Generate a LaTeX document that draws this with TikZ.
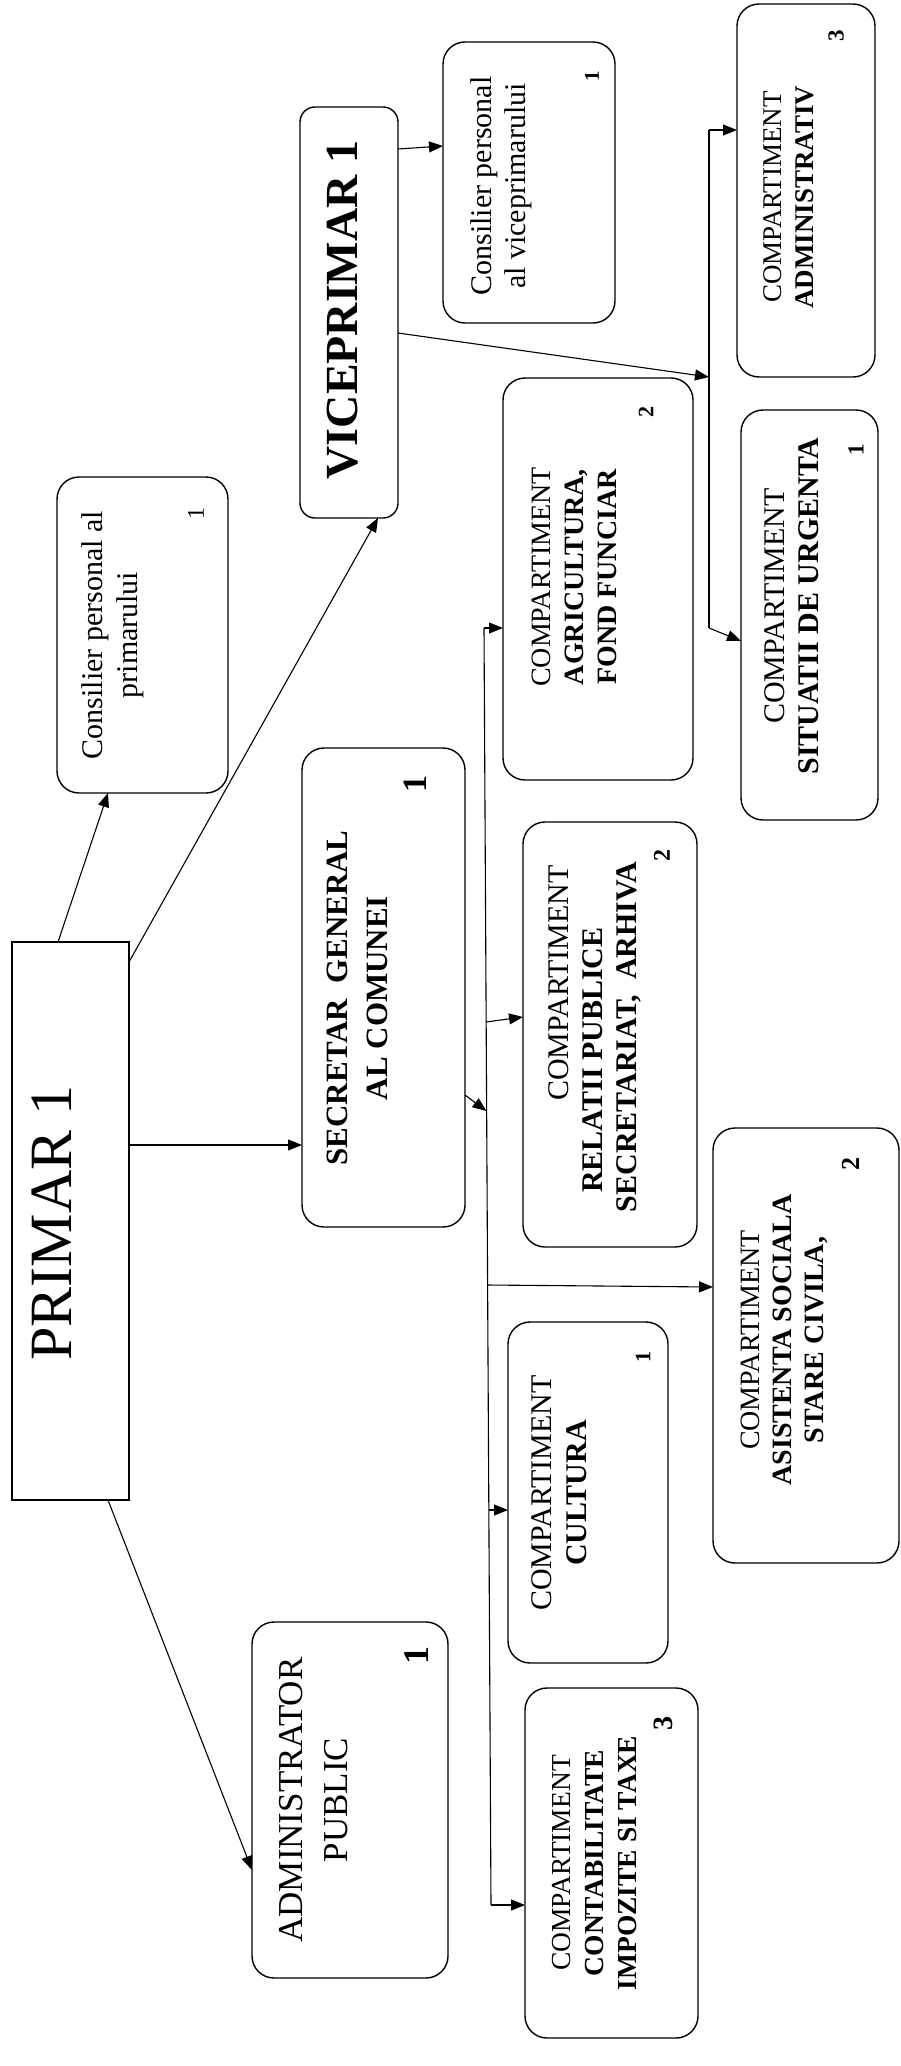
\documentclass[tikz,border=0pt]{standalone}
\usepackage{fontspec}
\setmainfont{Liberation Serif}
\usetikzlibrary{arrows.meta,fit}
\newcommand{\myfs}[2]{\fontsize{#1}{#2}\selectfont}
\begin{document}
\begin{tikzpicture}[x=1pt,y=-1pt,
  box/.style={draw, line width=1.4pt, rounded corners=22pt, inner sep=0pt, outer sep=0pt},
  sq/.style={draw, line width=1.4pt, inner sep=0pt, outer sep=0pt},
  lbl/.style={rotate=90, align=center, inner sep=0pt},
  num/.style={rotate=90, inner sep=0pt, font=\bfseries\myfs{#1}{#1}},
  ln/.style={line width=1.1pt},
  arr/.style={line width=1.1pt, -{Triangle[length=14pt,width=11pt]}}]
\useasboundingbox (0,0) rectangle (901,2066);
\fill[white] (0,0) rectangle (901,2066);

% ---------- boxes ----------
\node[sq, fit={(12,942) (129,1500)}] (primar) {};
\node[lbl, font=\myfs{60}{66}] (tprimar) at (52,1223) {PRIMAR 1};

\node[box, rounded corners=15pt, fit={(300,107) (398,518)}] (vice) {};
\node[lbl, font=\bfseries\myfs{46}{50}] (tvice) at (343,310) {VICEPRIMAR 1};

\node[box, fit={(443,42) (615,323)}] (cvice) {};
\node[lbl, font=\myfs{30}{34}] (tcvice) at (501,186) {Consilier personal\\al viceprimarului};
\node[num=21] (ncvice) at (592,76) {1};

\node[box, fit={(737,4) (875,377)}] (cadm) {};
\node[lbl, font=\myfs{27}{32}] (tcadm) at (789,197) {COMPARTIMENT\\\textbf{ADMINISTRATIV}};
\node[num=23] (ncadm) at (836,36) {3};

\node[box, fit={(741,410) (878,820)}] (csit) {};
\node[lbl, font=\myfs{30}{34}] (tcsit) at (792,606) {COMPARTIMENT\\\textbf{SITUATII DE URGENTA}};
\node[num=23] (ncsit) at (856,450) {1};

\node[box, fit={(503,378) (693,780)}] (cagri) {};
\node[lbl, font=\myfs{28}{33}] (tcagri) at (574,577) {COMPARTIMENT\\\textbf{AGRICULTURA,}\\\textbf{FOND FUNCIAR}};
\node[num=22] (ncagri) at (646,412) {2};

\node[box, fit={(57,477) (228,793)}] (cprim) {};
\node[lbl, font=\myfs{30}{35}] (tcprim) at (113,635) {Consilier personal al\\primarului};
\node[rotate=90, inner sep=0pt, font=\myfs{24}{24}] (ncprim) at (196,513) {1};

\node[box, fit={(302,748) (465,1227)}] (secr) {};
\node[lbl, font=\bfseries\myfs{31}{40}] (tsecr) at (357,998) {SECRETAR\ \ GENERAL\\AL COMUNEI};
\node[num=34] (nsecr) at (415,784) {1};

\node[box, fit={(523,822) (697,1247)}] (crel) {};
\node[lbl, font=\myfs{30}{34}] (tcrel) at (595,1037) {\makebox[108pt]{}COMPARTIMENT\\\textbf{RELATII PUBLICE}\makebox[46pt]{}\\\textbf{SECRETARIAT,\ \ ARHIVA}};
\node[num=24] (ncrel) at (662,855) {2};

\node[box, fit={(508,1322) (668,1663)}] (ccult) {};
\node[lbl, font=\myfs{30}{35}] (tccult) at (559,1493) {COMPARTIMENT\\\textbf{CULTURA}};
\node[num=22] (nccult) at (643,1357) {1};

\node[box, fit={(713,1128) (899,1563)}] (casi) {};
\node[lbl, font=\myfs{28}{32}] (tcasi) at (784,1340) {COMPARTIMENT\\\textbf{ASISTENTA SOCIALA}\\\textbf{STARE CIVILA,}};
\node[num=26] (ncasi) at (851,1164) {2};

\node[box, fit={(525,1688) (698,2038)}] (ccont) {};
\node[lbl, font=\myfs{27.5}{33}] (tccont) at (595,1863) {COMPARTIMENT\\\textbf{CONTABILITATE}\\\textbf{IMPOZITE SI TAXE}};
\node[num=28] (nccont) at (663,1723) {3};

\node[box, fit={(252,1622) (448,1978)}] (admin) {};
\node[lbl, font=\myfs{35}{45}] (tadmin) at (314,1800) {ADMINISTRATOR\\PUBLIC};
\node[num=36] (nadmin) at (417,1655) {1};

% ---------- bus coordinates ----------
\coordinate (vtop) at (709,130);
\coordinate (vmid) at (709,377);
\coordinate (vbot) at (709,628);
\coordinate (stop) at (484,628);
\coordinate (srel) at (486,1022);
\coordinate (ssec) at (486.5,1111);
\coordinate (sasi) at (487.6,1285);
\coordinate (scul) at (488.8,1510);
\coordinate (sbot) at (491,1905);

% ---------- connectors from PRIMAR ----------
\draw[arr] (primar.north -| 58,0) -- (cprim.south -| 108,0);
\draw[arr] (primar.east |- 0,962) -- (vice.south -| 378,0);
\draw[arr] (primar.east |- 0,1145) -- (secr.west |- 0,1145);
\draw[arr] (primar.south -| 108,0) -- (admin.west |- 0,1870);

% ---------- VICEPRIMAR ----------
\draw[arr] (vice.east |- 0,149) -- (cvice.west |- 0,146);
\draw[arr] (vice.east |- 0,333) -- (vmid);
\draw[ln] (vtop) -- (vbot);
\draw[arr] (vtop) -- (cadm.west |- vtop);
\draw[arr] (vbot) -- (csit.west |- 0,641);

% ---------- SECRETAR bus ----------
\draw[ln] (stop) -- (sbot);
\draw[arr] (stop) -- (cagri.west |- stop);
\draw[arr] (secr.east |- 0,1095) -- (ssec);
\draw[arr] (srel) -- (crel.west |- 0,1017);
\draw[arr] (sasi) -- (casi.west |- 0,1287);
\draw[arr] (scul) -- (ccult.west |- scul);
\draw[arr] (sbot) -- (ccont.west |- sbot);
\end{tikzpicture}
\end{document}
